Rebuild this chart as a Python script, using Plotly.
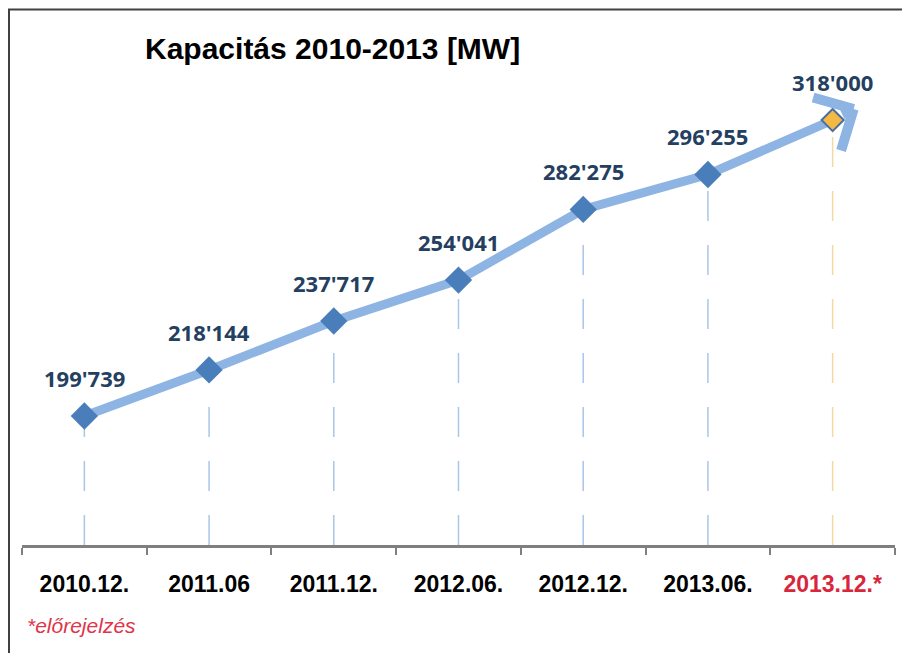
import plotly.graph_objects as go

categories = ["2010.12.", "2011.06", "2011.12.", "2012.06.", "2012.12.", "2013.06.", "2013.12.*"]
values = [199739, 218144, 237717, 254041, 282275, 296255, 318000]
value_labels = ["199'739", "218'144", "237'717", "254'041", "282'275", "296'255", "318'000"]
forecast = [False, False, False, False, False, False, True]

title_text = "Kapacitás 2010-2013 [MW]"
footnote_text = "*előrejelzés"

LINE_BLUE = "#8db4e2"
MARK_BLUE = "#4a7ebb"
LABEL_NAVY = "#243f60"
DROP_BLUE = "#a9c6e8"
DROP_GOLD = "#f3d9a4"
GOLD = "#f4b942"
RED = "#d8263c"

y_min, y_max = 148200, 342000
idx = list(range(len(categories)))

fig = go.Figure()

mk_colors = [GOLD if f else MARK_BLUE for f in forecast]
mk_sizes = [17 if f else 21 for f in forecast]
mk_line_w = [2 if f else 0 for f in forecast]
fig.add_trace(go.Scatter(
    x=categories, y=values, mode="lines+markers",
    line=dict(color=LINE_BLUE, width=9),
    marker=dict(symbol="diamond", color=mk_colors, size=mk_sizes, opacity=1,
                line=dict(color="#4a6fa5", width=mk_line_w)),
    showlegend=False,
))

PW, PH = 873, 485  # plot area size in px

shapes = []
# drop lines (category index positions)
for i, v, f in zip(idx, values, forecast):
    shapes.append(dict(
        type="line", xref="x", yref="y", x0=i, x1=i, y0=y_min, y1=v,
        line=dict(color=DROP_GOLD if f else DROP_BLUE, width=1.5, dash="30px,24px"),
        layer="below",
    ))

# frame border
shapes.append(dict(
    type="rect", xref="paper", yref="paper",
    x0=-13 / PW, x1=1.2, y0=-0.5, y1=1 + 50.5 / PH,
    line=dict(color="#404040", width=2), fillcolor="rgba(0,0,0,0)", layer="above",
))

annotations = []
for i, v, t in zip(idx, values, value_labels):
    annotations.append(dict(
        x=i, y=v, text=f"<b>{t}</b>", showarrow=False, yshift=38,
        font=dict(family="Open Sans", size=22, color=LABEL_NAVY),
        xanchor="center", yanchor="middle",
    ))

# arrow at end of the line (shaft + two arms)
arrow_parts = [(-21, 10, 9), (-42, -12, 0), (-13, 43, 0)]
for ax, ay, sso in arrow_parts:
    annotations.append(dict(
        x=idx[-1], y=values[-1], xshift=21, yshift=11,
        text="", showarrow=True, arrowhead=0, arrowwidth=10,
        arrowcolor=LINE_BLUE, ax=ax, ay=ay, startstandoff=sso, standoff=0,
    ))

# title
annotations.append(dict(
    xref="paper", yref="paper", x=(143 - 22) / PW, y=1 + (60 - 48) / PH,
    text=f"<b>{title_text}</b>", showarrow=False, xanchor="left", yanchor="middle",
    font=dict(family="Arial", size=30, color="#000000"),
))
# footnote
annotations.append(dict(
    xref="paper", yref="paper", x=(25 - 22) / PW, y=-(625 - 545) / PH,
    text=f"<i>{footnote_text}</i>", showarrow=False, xanchor="left", yanchor="middle",
    font=dict(family="Arial", size=21, color="#e0344a"),
))

ticktext = [f"<span style='color:{RED}'>{c}</span>" if f else c
            for c, f in zip(categories, forecast)]

fig.update_layout(
    width=902, height=645,
    margin=dict(l=14, r=15, t=52, b=108, autoexpand=False),
    paper_bgcolor="white", plot_bgcolor="white",
    shapes=shapes, annotations=annotations,
    showlegend=False,
    xaxis=dict(
        type="category", tickmode="array", tickvals=categories, ticktext=ticktext,
        range=[-0.5, 6.5], showline=True, linecolor="#7f7f7f", linewidth=3,
        ticks="outside", tickson="boundaries", ticklen=7, tickwidth=2, tickcolor="#7f7f7f",
        showgrid=False, zeroline=False, ticklabelstandoff=16, automargin=False,
        tickfont=dict(family="Arial", size=23, color="#000000", weight="bold"),
    ),
    yaxis=dict(range=[y_min, y_max], visible=False, showgrid=False, zeroline=False,
               automargin=False),
)

fig.write_html("out.html")
